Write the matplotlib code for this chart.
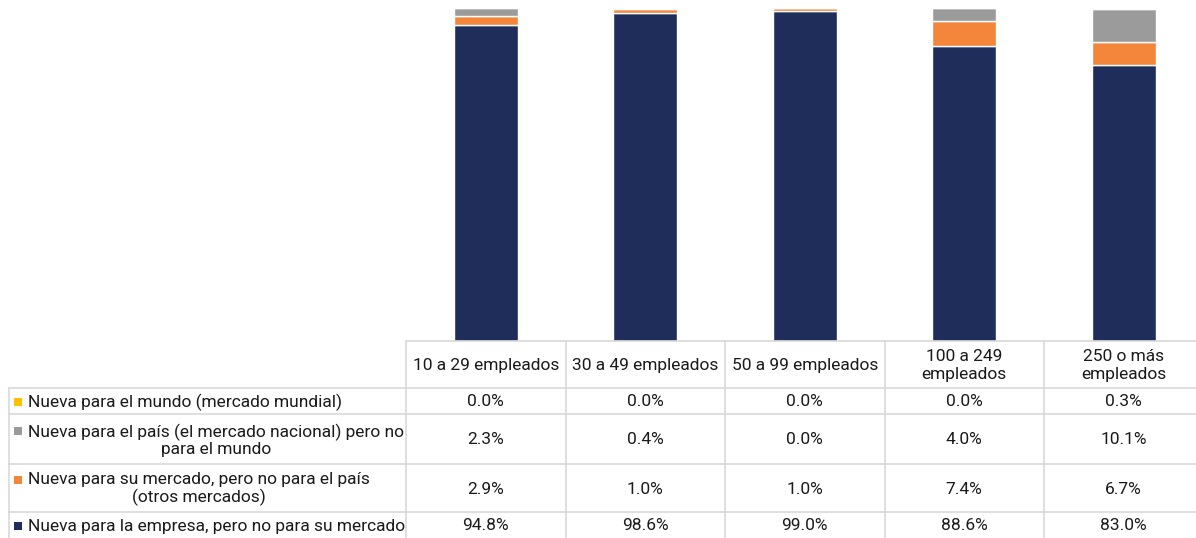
import matplotlib
matplotlib.use("Agg")
import matplotlib.pyplot as plt
import numpy as np

plt.rcParams['font.family'] = ['Roboto', 'DejaVu Sans']

categories = ["10 a 29 empleados", "30 a 49 empleados", "50 a 99 empleados",
              "100 a 249\nempleados", "250 o más\nempleados"]

series_names = [
    "Nueva para el mundo (mercado mundial)",
    "Nueva para el país (el mercado nacional) pero no\npara el mundo",
    "Nueva para su mercado, pero no para el país\n(otros mercados)",
    "Nueva para la empresa, pero no para su mercado",
]
mundo = [0.0, 0.0, 0.0, 0.0, 0.3]
pais = [2.3, 0.4, 0.0, 4.0, 10.1]
mercado = [2.9, 1.0, 1.0, 7.4, 6.7]
empresa = [94.8, 98.6, 99.0, 88.6, 83.0]

colors = ["#FFC000", "#9B9B9B", "#F4863C", "#1E2D5A"]
series = [mundo, pais, mercado, empresa]

W, H = 1196, 538
fig = plt.figure(figsize=(W / 100, H / 100), dpi=100)

# table geometry (pixels)
x_left, x_tab, x_right = 9, 406, 1196
y_top, y_hdr = 341, 388
row_lines = [388, 414, 464, 512, 538]
col_w = 159.5

# bar chart area above the table
ax = fig.add_axes([x_tab / W, (H - y_top) / H, (x_right - x_tab) / W, y_top / H])
x = np.arange(len(categories))
bottom = np.zeros(len(categories))
# stack from bottom: empresa, mercado, pais, mundo
for vals, col in zip(series[::-1], colors[::-1]):
    v = np.array(vals)
    ax.bar(x, v, bottom=bottom, width=0.4, color=col, edgecolor="white", linewidth=1.0)
    bottom += v
ax.set_xlim(-0.5, (x_right - x_tab) / col_w - 0.5)
ax.set_ylim(0, 100 * y_top / 333.0)
ax.axis("off")

# table overlay in pixel coordinates
tab = fig.add_axes([0, 0, 1, 1])
tab.set_xlim(0, W)
tab.set_ylim(H, 0)
tab.axis("off")
grid = "#D9D9D9"
lw = 1.2
tab.plot([x_tab, x_right], [y_top, y_top], color=grid, lw=lw)
for yy in row_lines[:-1]:
    tab.plot([x_left, x_right], [yy, yy], color=grid, lw=lw)
tab.plot([x_left, x_left], [y_hdr, H], color=grid, lw=lw)
col_edges = [x_tab + i * col_w for i in range(len(categories))]
for xx in col_edges:
    tab.plot([xx, xx], [y_top, H], color=grid, lw=lw)

fs = 12.5
txt = "#1A1A1A"
centers = [x_tab + col_w * (i + 0.5) for i in range(len(categories))]
for cx, cat in zip(centers, categories):
    tab.text(cx, (y_top + y_hdr) / 2 + 1, cat, ha="center", va="center",
             fontsize=fs, color=txt, linespacing=1.2)

for r, (name, col, vals) in enumerate(zip(series_names, colors, series)):
    yc = (row_lines[r] + row_lines[r + 1]) / 2 + 1
    n_lines = name.count("\n") + 1
    first_y = yc - (n_lines - 1) * 9.5
    tab.add_patch(plt.Rectangle((14, first_y - 4), 8, 8, color=col, lw=0))
    tab.text(28, yc, name, ha="left", va="center", multialignment="center",
             fontsize=fs, color=txt, linespacing=1.1)
    for cx, v in zip(centers, vals):
        tab.text(cx, yc, f"{v:.1f}%", ha="center", va="center", fontsize=fs, color=txt)

fig.savefig("out.png", dpi=100)
